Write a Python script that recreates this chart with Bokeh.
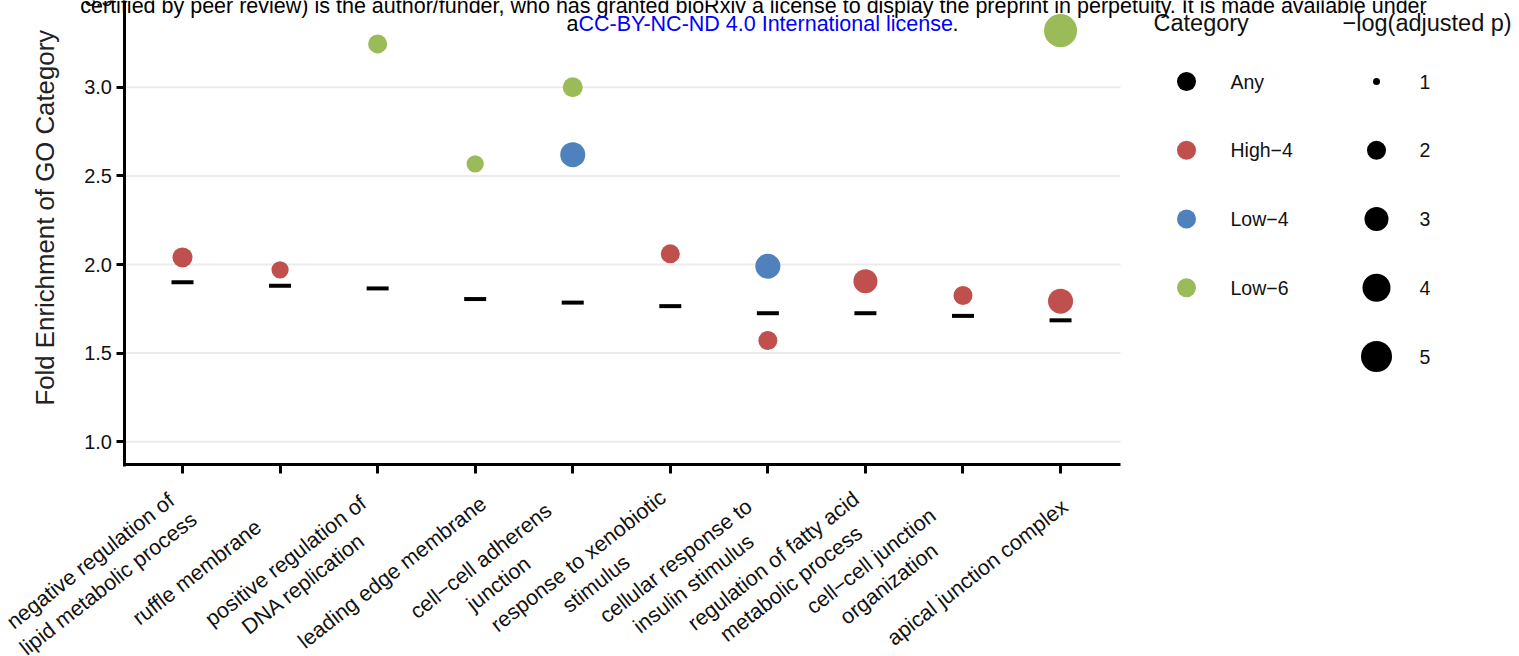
import numpy as np
from bokeh.plotting import figure
from bokeh.models import Range1d, FixedTicker, Label, PrintfTickFormatter, ColumnDataSource
from bokeh.embed import file_html
from bokeh.resources import INLINE

FONT = "Liberation Sans"

# ---------------- data ----------------
terms = [
    "negative regulation of\nlipid metabolic process",
    "ruffle membrane",
    "positive regulation of\nDNA replication",
    "leading edge membrane",
    "cell\u2212cell adherens\njunction",
    "response to xenobiotic\nstimulus",
    "cellular response to\ninsulin stimulus",
    "regulation of fatty acid\nmetabolic process",
    "cell\u2212cell junction\norganization",
    "apical junction complex",
]
any_fe = [1.90, 1.88, 1.865, 1.805, 1.785, 1.765, 1.725, 1.725, 1.71, 1.685]

pt_term = [1, 2, 3, 4, 5, 5, 6, 7, 7, 8, 9, 10, 10]
pt_cat = ["High\u22124", "High\u22124", "Low\u22126", "Low\u22126", "Low\u22126", "Low\u22124",
          "High\u22124", "Low\u22124", "High\u22124", "High\u22124", "High\u22124", "High\u22124", "Low\u22126"]
pt_fe = [2.04, 1.97, 3.245, 2.568, 3.00, 2.62, 2.06, 1.99, 1.571, 1.906, 1.825, 1.793, 3.32]
pt_nlp = [2.2, 1.85, 2.0, 1.85, 2.2, 3.25, 2.0, 3.25, 2.0, 3.0, 2.0, 3.25, 5.7]

categories = ["Any", "High\u22124", "Low\u22124", "Low\u22126"]
cat_colors = ["#000000", "#C0504D", "#4F81BD", "#9BBB59"]
size_breaks = [1, 2, 3, 4, 5]
y_ticks = [1.0, 1.5, 2.0, 2.5, 3.0]

# size scale (-log p -> marker diameter in px)
_sb = [1, 2, 3, 4, 5, 6]
_sd = [7, 19, 24, 28, 31, 34]
def size_of(v):
    return float(np.interp(v, _sb, _sd))

# page-pixel -> data helpers (layout of axes / annotations)
PX_PER_X = 97.56
def X(px):
    return 1 + (px - 182) / PX_PER_X
def Y(py):
    return 2.0 - (py - 264) / 177.2

W, H = 1519, 656
p = figure(width=W, height=H, output_backend="svg", toolbar_location=None,
           x_range=Range1d(X(0), X(W)), y_range=Range1d(Y(H), Y(0)),
           min_border=0, min_border_left=0, min_border_right=0,
           min_border_top=0, min_border_bottom=0)
p.outline_line_color = None
p.xgrid.visible = False
p.ygrid.visible = False
p.background_fill_color = "white"
p.border_fill_color = "white"

x_left, x_right = X(122.5), X(1120)
y_axis_val = Y(464)

# gridlines limited to the panel
p.segment(x0=[x_left] * len(y_ticks), x1=[x_right] * len(y_ticks), y0=y_ticks, y1=y_ticks,
          line_color="#EBEBEB", line_width=2, level="underlay")

# x axis
xa = p.xaxis[0]
xa.fixed_location = y_axis_val
xa.ticker = FixedTicker(ticks=list(range(1, len(terms) + 1)))
xa.major_label_overrides = {i + 1: "" for i in range(len(terms))}
xa.bounds = (x_left, x_right)
xa.axis_line_width = 3
xa.axis_line_color = "black"
xa.major_tick_line_width = 3
xa.major_tick_line_color = "black"
xa.major_tick_out = 9
xa.major_tick_in = 0
xa.minor_tick_line_color = None

# rotated category labels (block centred left-below each tick, lines centred)
LABEL_DX, LABEL_CY = -83, 572
for i, t in enumerate(terms):
    p.add_layout(Label(x=i + 1 + LABEL_DX / PX_PER_X, y=Y(LABEL_CY), text=t, angle=np.deg2rad(38),
                       text_align="center", text_baseline="middle", text_line_height=1.2,
                       text_font=FONT, text_font_size="21.5px", text_color="#111111"))

# y axis
ya = p.yaxis[0]
ya.fixed_location = X(123.5)
ya.ticker = FixedTicker(ticks=y_ticks)
ya.formatter = PrintfTickFormatter(format="%.1f")
ya.bounds = (Y(465.5), Y(0))
ya.axis_line_width = 3
ya.axis_line_color = "black"
ya.major_tick_line_width = 3
ya.major_tick_line_color = "black"
ya.major_tick_out = 8
ya.major_tick_in = 0
ya.minor_tick_line_color = None
ya.major_label_text_font = FONT
ya.major_label_text_font_size = "20px"
ya.major_label_text_color = "#111111"
ya.major_label_standoff = 4

# partially visible top tick label
p.add_layout(Label(x=X(112), y=3.5, text="3.5", text_align="right", text_baseline="middle",
                   text_font=FONT, text_font_size="20px", text_color="#111111"))

# y-axis title (the panel extends above the visible crop)
p.add_layout(Label(x=X(44), y=Y(405), text="Fold Enrichment of GO Category", angle=np.pi / 2,
                   text_align="left", text_baseline="middle", text_font=FONT,
                   text_font_size="25.8px", text_color="#222222"))

# "Any" dashes
p.scatter(x=list(range(1, len(terms) + 1)), y=any_fe, marker="dash", size=22,
          line_color="black", line_width=4)

# category points
col_map = dict(zip(categories, cat_colors))
src = ColumnDataSource(dict(x=pt_term, y=pt_fe,
                            c=[col_map[c] for c in pt_cat],
                            s=[size_of(v) for v in pt_nlp]))
p.scatter(x="x", y="y", size="s", fill_color="c", line_color="c", line_width=0, source=src)

# ---------------- legends ----------------
row_py = [81 + 68.75 * i for i in range(5)]
p.add_layout(Label(x=X(1153), y=Y(22), text="Category", text_font=FONT, text_font_size="23.5px",
                   text_baseline="middle", text_color="#111111"))
p.scatter(x=[X(1186)] * len(categories), y=[Y(v) for v in row_py[:len(categories)]],
          size=19, fill_color=cat_colors, line_color=None)
for i, c in enumerate(categories):
    p.add_layout(Label(x=X(1230), y=Y(row_py[i]), text=c, text_font=FONT, text_font_size="19.5px",
                       text_baseline="middle", text_color="#111111"))

p.add_layout(Label(x=X(1342), y=Y(22), text="\u2212log(adjusted p)", text_font=FONT,
                   text_font_size="23.5px", text_baseline="middle", text_color="#111111"))
p.scatter(x=[X(1376)] * len(size_breaks), y=[Y(v) for v in row_py[:len(size_breaks)]],
          size=[size_of(v) for v in size_breaks], fill_color="black", line_color=None)
for i, b in enumerate(size_breaks):
    p.add_layout(Label(x=X(1419), y=Y(row_py[i]), text=str(b), text_font=FONT,
                       text_font_size="19.5px", text_baseline="middle", text_color="#111111"))

# ---------------- preprint watermark ----------------
p.add_layout(Label(x=X(753), y=Y(5), text="certified by peer review) is the author/funder, who has granted "
                   "bioRxiv a license to display the preprint in perpetuity. It is made available under",
                   text_align="center", text_baseline="alphabetic", text_font=FONT,
                   text_font_size="21.5px", text_color="black"))
p.add_layout(Label(x=X(578), y=Y(23), text="a", text_align="right", text_baseline="alphabetic",
                   text_font=FONT, text_font_size="21.5px", text_color="black"))
p.add_layout(Label(x=X(578), y=Y(23), text="CC-BY-NC-ND 4.0 International license",
                   text_align="left", text_baseline="alphabetic",
                   text_font=FONT, text_font_size="21.5px", text_color="#0000FF"))
p.add_layout(Label(x=X(952), y=Y(23), text=".", text_align="left", text_baseline="alphabetic",
                   text_font=FONT, text_font_size="21.5px", text_color="black"))

open("out.html", "w").write(file_html(p, INLINE))
